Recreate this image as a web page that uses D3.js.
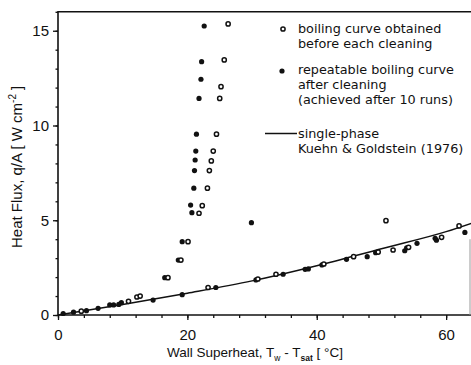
<!DOCTYPE html>
<head>
	<script src="https://d3js.org/d3.v7.min.js"></script>
	<style>
		body { margin: 0; background: #fff; }
		svg { display: block; }
		.axes text {
			font-family: "Liberation Sans", Arial, sans-serif;
			font-size: 15px;
			fill: #111;
		}
		.axes line { stroke: #111; stroke-width: 1.3; }
		.axes_titles {
			font-family: "Liberation Sans", Arial, sans-serif;
			font-size: 15px;
			fill: #111;
		}
		.legend {
			font-family: "DejaVu Sans", sans-serif;
			font-size: 12.8px;
			fill: #111;
		}
	</style>
</head>

<body>
	<script>
		// heat flux vs wall superheat: boiling curves + single-phase reference line

		var width = 471;
		var height = 365;

		// boiling curve obtained before each cleaning (open circles)
		var beforeX = [3.6, 10.9, 12.2, 12.7, 17.0, 19.0, 20.1, 21.8, 22.3, 23.1, 23.4, 23.7, 24.0, 24.5, 25.0, 25.2, 25.7, 26.3,
			23.2, 30.9, 33.7, 41.1, 45.7, 49.5, 50.7, 51.8, 54.2, 59.3, 62.0];
		var beforeY = [0.2, 0.72, 0.95, 1.0, 1.97, 2.9, 3.87, 5.37, 5.77, 6.69, 7.62, 8.13, 8.65, 9.54, 11.43, 12.05, 13.46, 15.36,
			1.45, 1.9, 2.15, 2.69, 3.08, 3.32, 4.98, 3.43, 3.57, 4.1, 4.7];

		// repeatable boiling curve after cleaning (filled dots)
		var afterX = [0.8, 2.4, 4.4, 6.2, 8.0, 8.6, 9.4, 9.8, 14.7, 16.5, 18.6, 19.2, 19.2, 20.5, 20.7, 21.0, 21.1, 21.2, 21.3, 21.4,
			21.8, 22.1, 22.2, 22.6, 24.4, 29.9, 30.6, 34.8, 38.2, 38.7, 40.8, 44.6, 47.8, 49.1, 53.6, 53.9, 55.5, 58.3, 58.5, 62.9];
		var afterY = [0.08, 0.15, 0.23, 0.35, 0.53, 0.53, 0.56, 0.65, 0.79, 1.97, 2.9, 3.87, 1.07, 5.8, 5.4, 6.69, 7.62, 8.18, 8.65, 9.54,
			11.43, 12.44, 13.37, 15.25, 1.45, 4.87, 1.85, 2.15, 2.41, 2.43, 2.64, 2.94, 3.08, 3.29, 3.39, 3.55, 3.78, 4.05, 3.95, 4.36];

		// single-phase, Kuehn & Goldstein (1976)
		var lineX = [0, 10, 20, 30, 40, 50, 60, 64];
		var lineY = [0, 0.55, 1.15, 1.8, 2.6, 3.5, 4.4, 4.85];

		var xMajor = [0, 20, 40, 60];
		var xMinor = d3.range(0, 65, 4);
		var yMajor = [0, 5, 10, 15];
		var yMinor = d3.range(0, 17, 1);

		var legendLines = [
			["boiling curve obtained", "before each cleaning"],
			["repeatable boiling curve", "after cleaning", "(achieved after 10 runs)"],
			["single-phase", "Kuehn & Goldstein (1976)"]
		];

		var before = beforeX.map(function(d, i) { return { x: d, y: beforeY[i] }; });
		var after = afterX.map(function(d, i) { return { x: d, y: afterY[i] }; });
		var single = lineX.map(function(d, i) { return { x: d, y: lineY[i] }; });

		// scales
		var xScale = d3.scaleLinear().domain([0, 64]).range([58, 472]);
		var yScale = d3.scaleLinear().domain([0, 16]).range([315, 11.8]);

		var svg = d3.select("body")
			.append("svg")
			.attr("width", width)
			.attr("height", height);

		// minor ticks
		svg.append("g")
			.attr("class", "axes")
			.attr("transform", "translate(0," + yScale(0) + ")")
			.call(d3.axisBottom(xScale).tickValues(xMinor).tickSize(3).tickFormat(""))
			.select(".domain").remove();
		svg.append("g")
			.attr("class", "axes")
			.attr("transform", "translate(" + xScale(0) + ",0)")
			.call(d3.axisLeft(yScale).tickValues(yMinor).tickSize(2.5).tickFormat(""))
			.select(".domain").remove();

		// major ticks + labels
		svg.append("g")
			.attr("class", "axes")
			.attr("transform", "translate(0," + yScale(0) + ")")
			.call(d3.axisBottom(xScale).tickValues(xMajor).tickSize(5).tickPadding(9))
			.select(".domain").remove();
		svg.append("g")
			.attr("class", "axes")
			.attr("transform", "translate(" + xScale(0) + ",0)")
			.call(d3.axisLeft(yScale).tickValues(yMajor).tickSize(5).tickPadding(4))
			.select(".domain").remove();

		// frame
		svg.append("path")
			.attr("d", "M" + xScale(0) + "," + yScale(0) + "V" + yScale(16) + "H" + width)
			.attr("fill", "none")
			.attr("stroke", "#111")
			.attr("stroke-width", 1.6);
		svg.append("line")
			.attr("x1", xScale(0)).attr("x2", width)
			.attr("y1", yScale(0)).attr("y2", yScale(0))
			.attr("stroke", "#111")
			.attr("stroke-width", 1.6);
		svg.append("line")
			.attr("x1", width - 1).attr("x2", width - 1)
			.attr("y1", yScale(4)).attr("y2", yScale(0))
			.attr("stroke", "#999")
			.attr("stroke-width", 1);

		// single-phase line
		svg.append("path")
			.datum(single)
			.attr("d", d3.line()
				.x(function(d) { return xScale(d.x); })
				.y(function(d) { return yScale(d.y); })
				.curve(d3.curveMonotoneX))
			.attr("fill", "none")
			.attr("stroke", "#111")
			.attr("stroke-width", 1.5);

		// points
		svg.selectAll("circle.after")
			.data(after)
			.enter()
			.append("circle")
			.attr("class", "after")
			.attr("cx", function(d) { return xScale(d.x); })
			.attr("cy", function(d) { return yScale(d.y); })
			.attr("r", 2.6)
			.attr("fill", "#111");
		svg.selectAll("circle.before")
			.data(before)
			.enter()
			.append("circle")
			.attr("class", "before")
			.attr("cx", function(d) { return xScale(d.x); })
			.attr("cy", function(d) { return yScale(d.y); })
			.attr("r", 2.1)
			.attr("fill", "#fff")
			.attr("stroke", "#111")
			.attr("stroke-width", 1.5);

		// axis titles
		var xt = svg.append("text")
			.attr("class", "axes_titles")
			.attr("x", 167)
			.attr("y", 357)
			.style("font-size", "13.5px");
		xt.append("tspan").text("Wall Superheat, T");
		xt.append("tspan").text("w").attr("font-size", "8.5px").attr("dy", 4);
		xt.append("tspan").text(" - T").attr("dy", -4);
		xt.append("tspan").text("sat").attr("font-size", "8.5px").attr("font-weight", "bold").attr("dy", 4);
		xt.append("tspan").text("  [ \u00b0C]").attr("dy", -4);

		var yt = svg.append("text")
			.attr("class", "axes_titles")
			.attr("transform", "translate(22,248) rotate(-90)");
		yt.append("tspan").text("Heat Flux, q/A [ W cm");
		yt.append("tspan").text("-2").attr("font-size", "10px").attr("dy", -6);
		yt.append("tspan").text(" ]").attr("dy", 6);

		// legend: one text element per entry, lines as tspans
		var lx = 298;
		var lg = svg.append("g").attr("class", "legend");
		[33, 74, 137.5].forEach(function(by, k) {
			var t = lg.append("text").attr("x", lx).attr("y", by);
			legendLines[k].forEach(function(s, j) {
				t.append("tspan")
					.attr("x", lx)
					.attr("dy", j === 0 ? 0 : 15)
					.text(s);
			});
		});
		lg.append("circle")
			.attr("cx", 283).attr("cy", 29).attr("r", 2.1)
			.attr("fill", "#fff").attr("stroke", "#111").attr("stroke-width", 1.5);
		lg.append("circle")
			.attr("cx", 282).attr("cy", 71).attr("r", 2.6)
			.attr("fill", "#111");
		lg.append("line")
			.attr("x1", 265).attr("x2", 297)
			.attr("y1", 133.5).attr("y2", 133.5)
			.attr("stroke", "#111").attr("stroke-width", 1.5);
	</script>
</body>
</html>
